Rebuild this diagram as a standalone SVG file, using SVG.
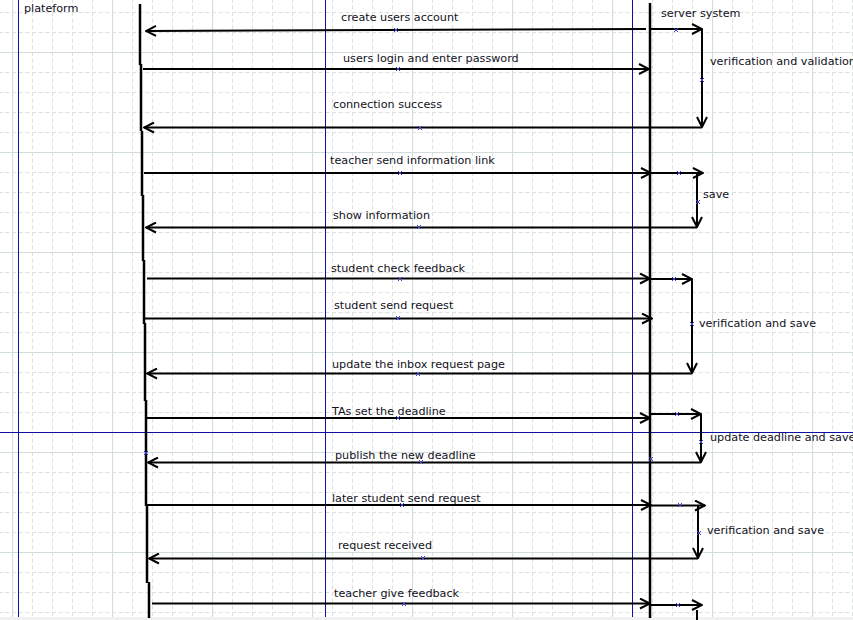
<svg xmlns="http://www.w3.org/2000/svg" width="853" height="620" viewBox="0 0 853 620">
<style>
.lbl{font-family:"DejaVu Sans",Verdana,sans-serif;font-size:11.2px;fill:#111122}
.msg{stroke:#000;stroke-width:2;fill:none}
.life{stroke:#000;stroke-width:2.5;fill:none}
.guide{stroke:#1010a0;stroke-width:1;fill:none}
.hx{stroke:#4040d0;stroke-width:1;fill:none}
</style>
<defs>
<pattern id="minor" x="12" y="12" width="20" height="20" patternUnits="userSpaceOnUse">
<path d="M0,0.5 H20 M0.5,0 V20" stroke="#dde0e0" stroke-width="1" stroke-dasharray="4 2.667" fill="none"/>
</pattern>
<pattern id="major" x="12" y="52" width="100" height="100" patternUnits="userSpaceOnUse">
<path d="M0,0.5 H100 M0.5,0 V100" stroke="#d3dcdc" stroke-width="1.2" fill="none"/>
</pattern>
<marker id="ah" viewBox="-11 -6 12 12" refX="0" refY="0" markerWidth="12" markerHeight="12" markerUnits="userSpaceOnUse" orient="auto">
<path d="M-10,-5 L0,0 L-10,5" stroke="#000" stroke-width="2" fill="none"/>
</marker>
</defs>
<rect width="853" height="620" fill="#fff"/>
<rect width="853" height="620" fill="url(#minor)"/>
<rect width="853" height="620" fill="url(#major)"/>
<rect x="0" y="617" width="853" height="3" fill="#f0f0f0"/>
<g id="guides">
<path class="guide" d="M18.5,0 V617 M325.5,0 V617 M632.5,0 V617 M0,432.5 H853"/>
</g>
<g id="plateform">
<path class="life" d="M140,4 V65 M141,64 V131 M142,131 V196 M143,195 V261 M144,260 V324 M145,323 V401 M146,400 V506 M147,505 V583 M149,582 V618"/>
<text class="lbl" x="24" y="12">plateform</text>
</g>
<g id="server">
<path class="life" d="M650,3 V618"/>
<text class="lbl" x="661" y="17">server system</text>
</g>
<g id="connectors">
<path class="msg" d="M646,29 L146,31" marker-end="url(#ah)"/>
<path class="msg" d="M650,29 H702" marker-end="url(#ah)"/>
<path class="msg" d="M702,29 V127" marker-end="url(#ah)"/>
<path class="msg" d="M143,69 H649" marker-end="url(#ah)"/>
<path class="msg" d="M702,127.5 H144" marker-end="url(#ah)"/>
<path class="msg" d="M144,173 H651" marker-end="url(#ah)"/>
<path class="msg" d="M651,173 H703" marker-end="url(#ah)"/>
<path class="msg" d="M697,173 V227" marker-end="url(#ah)"/>
<path class="msg" d="M697,227.5 H146" marker-end="url(#ah)"/>
<path class="msg" d="M147,278.5 H650" marker-end="url(#ah)"/>
<path class="msg" d="M650,279 H692" marker-end="url(#ah)"/>
<path class="msg" d="M692,279 V373" marker-end="url(#ah)"/>
<path class="msg" d="M143,318.5 H652" marker-end="url(#ah)"/>
<path class="msg" d="M692,373.5 H147" marker-end="url(#ah)"/>
<path class="msg" d="M145,418 H650" marker-end="url(#ah)"/>
<path class="msg" d="M650,414 H701" marker-end="url(#ah)"/>
<path class="msg" d="M701,414 V462" marker-end="url(#ah)"/>
<path class="msg" d="M701,462.5 H148" marker-end="url(#ah)"/>
<path class="msg" d="M147,505 H651" marker-end="url(#ah)"/>
<path class="msg" d="M651,505.5 H705" marker-end="url(#ah)"/>
<path class="msg" d="M698,505.5 V558" marker-end="url(#ah)"/>
<path class="msg" d="M698,558.5 H149" marker-end="url(#ah)"/>
<path class="msg" d="M152,603.5 H650" marker-end="url(#ah)"/>
<path class="msg" d="M650,605 H702" marker-end="url(#ah)"/>
<path class="msg" d="M697,610 V620"/>
</g>
<g id="handles">
<path class="hx" d="M394,28 l4,4 m0,-4 l-4,4 M396,67 l4,4 m0,-4 l-4,4 M674,28 l4,4 m0,-4 l-4,4 M700,78 l4,4 m0,-4 l-4,4 M418,126 l4,4 m0,-4 l-4,4 M398,171 l4,4 m0,-4 l-4,4 M677,171 l4,4 m0,-4 l-4,4 M696,200 l4,4 m0,-4 l-4,4 M417,225 l4,4 m0,-4 l-4,4 M398,277 l4,4 m0,-4 l-4,4 M672,277 l4,4 m0,-4 l-4,4 M690,322 l4,4 m0,-4 l-4,4 M396,316 l4,4 m0,-4 l-4,4 M416,372 l4,4 m0,-4 l-4,4 M396,416 l4,4 m0,-4 l-4,4 M675,412 l4,4 m0,-4 l-4,4 M699,440 l4,4 m0,-4 l-4,4 M419,460 l4,4 m0,-4 l-4,4 M649,457 l4,4 m0,-4 l-4,4 M144,451 l4,4 m0,-4 l-4,4 M400,503 l4,4 m0,-4 l-4,4 M678,503 l4,4 m0,-4 l-4,4 M697,531 l4,4 m0,-4 l-4,4 M421,556 l4,4 m0,-4 l-4,4 M402,602 l4,4 m0,-4 l-4,4 M676,603 l4,4 m0,-4 l-4,4"/>
</g>
<g id="labels">
<text class="lbl" x="341" y="21">create users account</text>
<text class="lbl" x="343" y="62">users login and enter password</text>
<text class="lbl" x="333" y="108">connection success</text>
<text class="lbl" x="330" y="164">teacher send information link</text>
<text class="lbl" x="333" y="219">show information</text>
<text class="lbl" x="331" y="272">student check feedback</text>
<text class="lbl" x="334" y="309">student send request</text>
<text class="lbl" x="332" y="368">update the inbox request page</text>
<text class="lbl" x="332" y="415">TAs set the deadline</text>
<text class="lbl" x="335" y="459">publish the new deadline</text>
<text class="lbl" x="332" y="502">later student send request</text>
<text class="lbl" x="338" y="549">request received</text>
<text class="lbl" x="334" y="597">teacher give feedback</text>
<text class="lbl" x="710" y="65">verification and validation</text>
<text class="lbl" x="703" y="198">save</text>
<text class="lbl" x="699" y="327">verification and save</text>
<text class="lbl" x="710" y="441">update deadline and save</text>
<text class="lbl" x="707" y="534">verification and save</text>
</g>
</svg>
